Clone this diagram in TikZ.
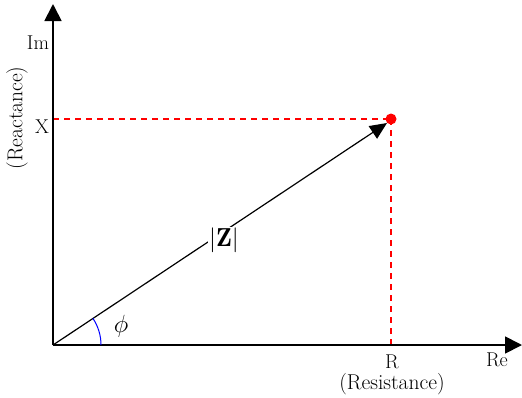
\documentclass[tikz,border=0pt]{standalone}
\usepackage{fontspec}
\usepackage{tikz}
\usetikzlibrary{arrows.meta, positioning, calc}
\usepackage{xcolor}

\begin{document}
\begin{tikzpicture}[
  x=1pt, y=-1pt,
  axis/.style={line width=1.8pt, -{Triangle[length=17pt, width=17pt]}},
  vec/.style={line width=1.2pt, -{Triangle[length=17pt, width=15pt]}},
  proj/.style={draw=red, line width=1.2pt, dash pattern=on 6pt off 5pt},
  lbl/.style={font=\fontsize{20}{22}\selectfont, inner sep=1pt},
  note/.style={font=\fontsize{21.5}{24}\selectfont, inner sep=1pt}
]
\useasboundingbox (0,0) rectangle (522,397);

% Origin, axis ends and the point
\coordinate (o) at (53,345);
\coordinate (ytop) at (53,4);
\coordinate (xend) at (522,345);
\node[circle, fill=red, inner sep=0pt, minimum size=11pt] (p) at (391,119) {};
\coordinate (px) at (53,119);
\coordinate (py) at (391,345);

% Projections
\draw[proj] (px) -- (p.center);
\draw[proj] (p.center) -- (py);

% Axes
\draw[axis] (o) -- (ytop);
\draw[axis] (o) -- (xend);

% Vector and angle
\draw[vec] (o) -- (p.south west);
\draw[blue, line width=1pt] (o) ++(48,0) arc[start angle=0, end angle=-33.8, radius=48];

% Labels
\node[lbl] (im) at (38,43) {Im};
\node[lbl] (xl) at (42,127) {X};
\node[note, rotate=90] (react) at (17,118) {(Reactance)};
\node[lbl] (rl) at (392,362) {R};
\node[lbl] (re) at (497,360) {Re};
\node[note] (res) at (392,384) {(Resistance)};
\node[lbl, fill=white, font=\fontsize{26}{28}\selectfont] (z) at (224,240) {$|\mathbf{Z}|$};
\node[lbl, font=\fontsize{30}{32}\selectfont] (phi) at (121,326) {$\phi$};
\end{tikzpicture}
\end{document}
